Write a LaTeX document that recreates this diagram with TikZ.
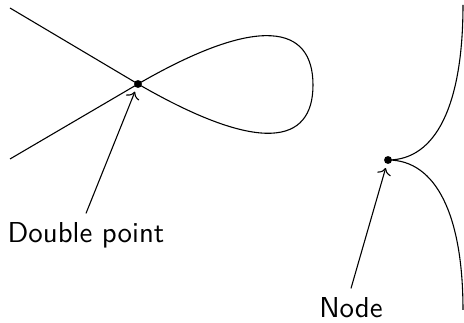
\documentclass[tikz,border=0pt]{standalone}
\usepackage{tikz}
\usetikzlibrary{positioning, arrows.meta}
\tikzset{
  pt/.style={circle, fill, inner sep=0pt, minimum size=2.9pt},
  lab/.style={font=\sffamily\fontsize{10.6}{12}\selectfont, anchor=base},
  pointer/.style={->, shorten >=1.4pt},
}

\begin{document}
\begin{tikzpicture}[x=0.012931cm, y=0.012931cm]
  \useasboundingbox (0,0) rectangle (464,323);
  % nodal curve: two straight arms and the loop
  \coordinate (ul) at (10,315);
  \coordinate (ll) at (10,164);
  \coordinate (tip) at (313,238);
  \node[pt] (dbl) at (138,239) {};
  \draw (ul) -- (dbl.center) .. controls (259,169) and (313,178) .. (tip)
        .. controls (313,298) and (259,309) .. (dbl.center) -- (ll);
  % cuspidal branches
  \node[pt] (cusp) at (388,163) {};
  \coordinate (top) at (463,318);
  \coordinate (bot) at (463,13);
  \draw (top) .. controls (463,218) and (436,163) .. (cusp.center)
        .. controls (436,163) and (463,108) .. (bot);
  % labels
  \node[lab] (dbllab) at (86,80) {Double point};
  \node[lab] (cusplab) at (351,5) {Node};
  \draw[pointer] (dbllab.north) -- (dbl);
  \draw[pointer] (cusplab.north) -- (cusp);
\end{tikzpicture}
\end{document}
